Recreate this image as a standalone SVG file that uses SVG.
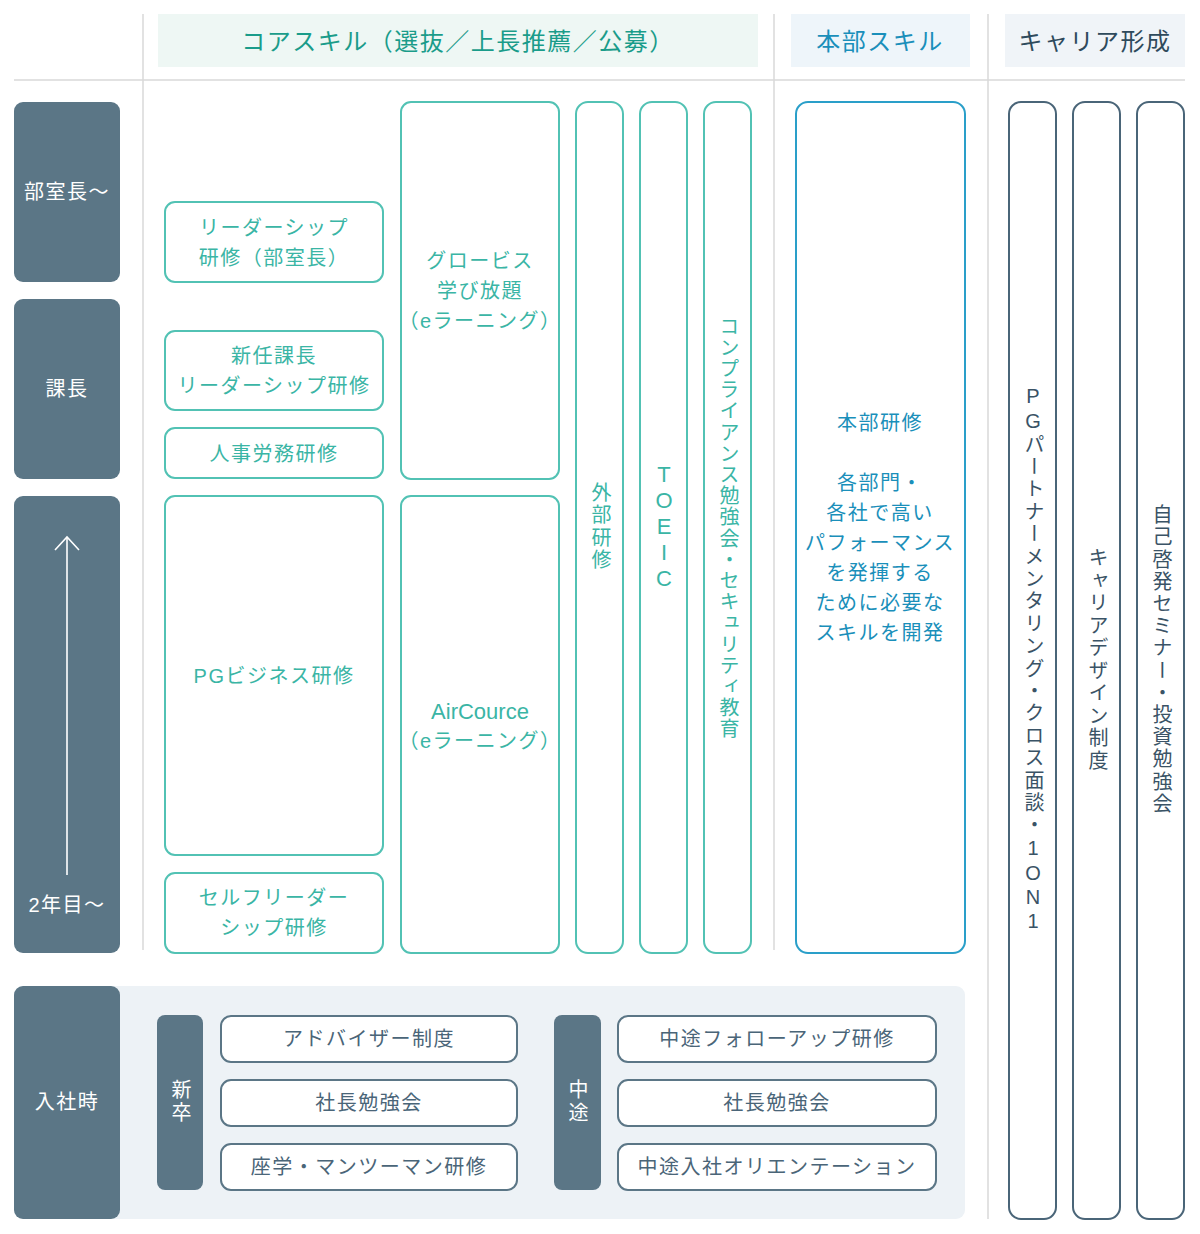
<svg xmlns="http://www.w3.org/2000/svg" width="1200" height="1234" viewBox="0 0 1200 1234">
<style>
text{font-family:"Liberation Sans","Noto Sans CJK JP",sans-serif;font-size:20px;text-anchor:middle;dominant-baseline:central;letter-spacing:1.5px}
.hd{font-size:24px;letter-spacing:1.5px}
.side{fill:#5b7686}
.side-t{fill:#ffffff}
.core{fill:#ffffff;stroke:#52c2b4;stroke-width:2}
.core-t{fill:#3ab5a5}
.bu{fill:#ffffff;stroke:#2a9fc9;stroke-width:2}
.bu-t{fill:#1a8fba}
.ca{fill:#ffffff;stroke:#4a6578;stroke-width:2}
.ca-t{fill:#3a5366}
.it{fill:#ffffff;stroke:#5b7686;stroke-width:2}
.it-t{fill:#4a6578}
.vt{writing-mode:vertical-rl;text-orientation:upright;letter-spacing:2.5px}
.sep{stroke:#d9d9d9;stroke-width:1.5}
</style>
<rect width="1200" height="1234" fill="#ffffff"/>

<g id="grid">
<line class="sep" x1="14" y1="80" x2="1185" y2="80" stroke-width="2"/>
<line class="sep" x1="143" y1="14" x2="143" y2="950"/>
<line class="sep" x1="774" y1="14" x2="774" y2="950"/>
<line class="sep" x1="988" y1="14" x2="988" y2="1219"/>
</g>

<g id="header-core"><rect x="158" y="14" width="600" height="53" fill="#eef7f4"/><text class="hd" x="458" y="41" fill="#1a9c8a">コアスキル（選抜／上長推薦／公募）</text></g>
<g id="header-honbu"><rect x="791" y="14" width="179" height="53" fill="#eef5fa"/><text class="hd" x="880" y="41" fill="#1a8fba">本部スキル</text></g>
<g id="header-career"><rect x="1005" y="14" width="180" height="53" fill="#f0f4f8"/><text class="hd" x="1095" y="41" fill="#2e4a5c">キャリア形成</text></g>

<g id="level-buchou"><rect class="side" x="14" y="102" width="106" height="180" rx="9"/><text class="side-t" x="67" y="192">部室長〜</text></g>
<g id="level-kachou"><rect class="side" x="14" y="299" width="106" height="180" rx="9"/><text class="side-t" x="67" y="389">課長</text></g>
<g id="level-2nen"><rect class="side" x="14" y="496" width="106" height="457" rx="9"/>
<polyline points="55,550 67,537 79,550" fill="none" stroke="#ffffff" stroke-width="1.6"/>
<line x1="67" y1="538" x2="67" y2="875" stroke="#ffffff" stroke-width="1.6"/>
<text class="side-t" x="67" y="905">2年目〜</text></g>

<g id="leader-buchou"><rect class="core" x="165" y="202" width="218" height="80" rx="10"/><text class="core-t" x="274" y="228">リーダーシップ</text><text class="core-t" x="274" y="258">研修（部室長）</text></g>
<g id="shinnin-kachou"><rect class="core" x="165" y="331" width="218" height="79" rx="10"/><text class="core-t" x="274" y="356">新任課長</text><text class="core-t" x="274" y="386">リーダーシップ研修</text></g>
<g id="jinji"><rect class="core" x="165" y="428" width="218" height="50" rx="10"/><text class="core-t" x="274" y="454">人事労務研修</text></g>
<g id="pg-business"><rect class="core" x="165" y="496" width="218" height="359" rx="10"/><text class="core-t" x="274" y="676">PGビジネス研修</text></g>
<g id="self-leader"><rect class="core" x="165" y="873" width="218" height="80" rx="10"/><text class="core-t" x="274" y="898">セルフリーダー</text><text class="core-t" x="274" y="928">シップ研修</text></g>

<g id="globis"><rect class="core" x="401" y="102" width="158" height="377" rx="10"/><text class="core-t" x="480" y="261">グロービス</text><text class="core-t" x="480" y="291">学び放題</text><text class="core-t" x="480" y="321">（eラーニング）</text></g>
<g id="aircource"><rect class="core" x="401" y="496" width="158" height="457" rx="10"/><text class="core-t" x="480" y="711" style="font-size:22px;letter-spacing:0">AirCource</text><text class="core-t" x="480" y="741">（eラーニング）</text></g>
<g id="gaibu"><rect class="core" x="576" y="102" width="47" height="851" rx="12"/><text class="core-t vt" x="600" y="527">外部研修</text></g>
<g id="toeic"><rect class="core" x="640" y="102" width="47" height="851" rx="12"/><text class="core-t vt" x="664" y="527" style="font-size:22px;letter-spacing:1px">TOEIC</text></g>
<g id="compliance"><rect class="core" x="704" y="102" width="47" height="851" rx="12"/><text class="core-t vt" x="728" y="528" style="letter-spacing:1.2px">コンプライアンス勉強会・セキュリティ教育</text></g>

<g id="honbu"><rect class="bu" x="796" y="102" width="169" height="851" rx="12"/>
<text class="bu-t" x="880" y="423">本部研修</text>
<text class="bu-t" x="880" y="483">各部門・</text>
<text class="bu-t" x="880" y="513">各社で高い</text>
<text class="bu-t" x="880" y="543">パフォーマンス</text>
<text class="bu-t" x="880" y="573">を発揮する</text>
<text class="bu-t" x="880" y="603">ために必要な</text>
<text class="bu-t" x="880" y="633">スキルを開発</text></g>

<g id="mentoring"><rect class="ca" x="1009" y="102" width="47" height="1117" rx="12"/><text class="ca-t vt" x="1033" y="660" style="letter-spacing:2.4px">PGパートナーメンタリング・クロス面談・1ON1</text></g>
<g id="career-design"><rect class="ca" x="1073" y="102" width="47" height="1117" rx="12"/><text class="ca-t vt" x="1097" y="660">キャリアデザイン制度</text></g>
<g id="jiko"><rect class="ca" x="1137" y="102" width="47" height="1117" rx="12"/><text class="ca-t vt" x="1161" y="660" style="letter-spacing:2.2px">自己啓発セミナー・投資勉強会</text></g>

<g id="entry-area"><rect x="14" y="986" width="951" height="233" rx="9" fill="#edf2f6"/></g>
<g id="entry"><rect class="side" x="14" y="986" width="106" height="233" rx="9"/><text class="side-t" x="67" y="1102">入社時</text></g>
<g id="shinsotsu"><rect class="side" x="157" y="1015" width="46" height="175" rx="8"/><text class="side-t vt" x="180" y="1102" style="letter-spacing:3px">新卒</text></g>
<g id="advisor"><rect class="it" x="221" y="1016" width="296" height="46" rx="10"/><text class="it-t" x="369" y="1039">アドバイザー制度</text></g>
<g id="shachou-1"><rect class="it" x="221" y="1080" width="296" height="46" rx="10"/><text class="it-t" x="369" y="1103">社長勉強会</text></g>
<g id="zagaku"><rect class="it" x="221" y="1144" width="296" height="46" rx="10"/><text class="it-t" x="369" y="1167">座学・マンツーマン研修</text></g>
<g id="chuto"><rect class="side" x="554" y="1015" width="47" height="175" rx="8"/><text class="side-t vt" x="577" y="1102" style="letter-spacing:3px">中途</text></g>
<g id="follow"><rect class="it" x="618" y="1016" width="318" height="46" rx="10"/><text class="it-t" x="777" y="1039">中途フォローアップ研修</text></g>
<g id="shachou-2"><rect class="it" x="618" y="1080" width="318" height="46" rx="10"/><text class="it-t" x="777" y="1103">社長勉強会</text></g>
<g id="orientation"><rect class="it" x="618" y="1144" width="318" height="46" rx="10"/><text class="it-t" x="777" y="1167">中途入社オリエンテーション</text></g>

<g id="connectors"></g>
</svg>
